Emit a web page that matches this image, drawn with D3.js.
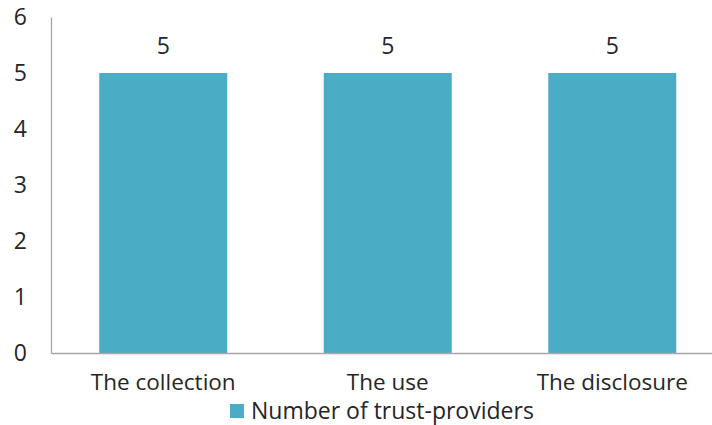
<!DOCTYPE html>
<html>
<head>
<meta charset="utf-8">
<script src="https://cdn.jsdelivr.net/npm/d3@7"></script>
<style>
  html, body { margin: 0; padding: 0; background: #fff; }
  svg { display: block; font-family: "Open Sans", "Noto Sans", sans-serif; }
</style>
</head>
<body>
<svg id="chart" width="712" height="425"></svg>
<script>
// Chart data
const categories = ["The collection", "The use", "The disclosure"];
const values = [5, 5, 5];
const seriesName = "Number of trust-providers";
const yTicks = [0, 1, 2, 3, 4, 5, 6];

const svg = d3.select("#chart");
const margin = { left: 51, top: 17, bottom: 72 };
const plotW = 673.5;
const plotH = 425 - margin.top - margin.bottom;
const fontStack = "\"Open Sans\", \"Noto Sans\", sans-serif";

const x = d3.scaleBand()
  .domain(categories)
  .range([margin.left, margin.left + plotW])
  .paddingInner(0.43)
  .paddingOuter(0.215);

const y = d3.scaleLinear().domain([0, 6]).range([margin.top + plotH, margin.top]);

const textColor = "#262626";
const barColor = "#4BACC6";

// Bars
svg.append("g").selectAll("rect")
  .data(values)
  .join("rect")
  .attr("x", (d, i) => x(categories[i]))
  .attr("y", d => y(d))
  .attr("width", x.bandwidth())
  .attr("height", d => y(0) - y(d))
  .attr("fill", barColor);

// Value labels
svg.append("g").selectAll("text")
  .data(values)
  .join("text")
  .attr("x", (d, i) => x(categories[i]) + x.bandwidth() / 2)
  .attr("y", d => y(d) - 19)
  .attr("text-anchor", "middle")
  .attr("font-size", 23)
  .attr("fill", textColor)
  .text(d => d);

// Y axis
const yAxis = svg.append("g")
  .attr("transform", `translate(${margin.left},0)`)
  .call(d3.axisLeft(y).tickValues(yTicks).tickFormat(d3.format("d")).tickSize(0).tickPadding(24));
yAxis.select(".domain").attr("stroke", "#a6a6a6").attr("stroke-width", 1.3);
yAxis.selectAll("text").attr("font-size", 23).attr("fill", textColor)
  .attr("font-family", fontStack);

// X axis
const xAxis = svg.append("g")
  .attr("transform", `translate(0,${y(0)})`)
  .call(d3.axisBottom(x).tickSize(0).tickPadding(21));
xAxis.select(".domain").attr("stroke", "#a6a6a6").attr("stroke-width", 1.3);
xAxis.selectAll("text").attr("font-size", 22.5).attr("fill", textColor)
  .attr("font-family", fontStack);

// Legend
const legend = svg.append("g").attr("transform", "translate(230,404)");
legend.append("rect").attr("width", 14).attr("height", 14).attr("fill", barColor);
legend.append("text")
  .attr("x", 21).attr("y", 7).attr("dy", "0.35em")
  .attr("font-size", 23).attr("fill", textColor)
  .text(seriesName);
</script>
</body>
</html>
